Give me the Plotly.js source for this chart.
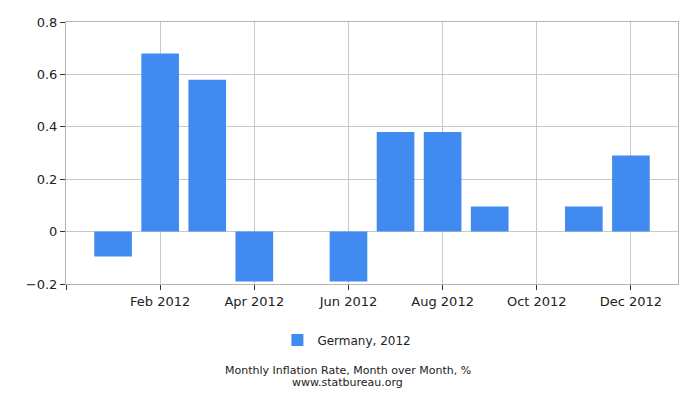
<!DOCTYPE html>
<html>
<head>
<meta charset="utf-8">
<script src="https://cdn.plot.ly/plotly-3.0.1.min.js"></script>
<style>
  html, body { margin: 0; padding: 0; background: #fff; }
  #chart { width: 700px; height: 400px; }
</style>
</head>
<body>
<div id="chart"></div>
<script>
var months = ['Jan 2012', 'Feb 2012', 'Mar 2012', 'Apr 2012', 'May 2012', 'Jun 2012',
              'Jul 2012', 'Aug 2012', 'Sep 2012', 'Oct 2012', 'Nov 2012', 'Dec 2012'];
var rates = [-0.095, 0.68, 0.58, -0.19, 0, -0.19, 0.38, 0.38, 0.096, 0, 0.096, 0.29];
var seriesName = 'Germany, 2012';
// every other month gets a label, plus the empty tick at the left edge
var tickIdx = [-1, 1, 3, 5, 7, 9, 11];
var tickLabels = ['', 'Feb 2012', 'Apr 2012', 'Jun 2012', 'Aug 2012', 'Oct 2012', 'Dec 2012'];

var trace = {
  x: months,
  y: rates,
  name: seriesName,
  type: 'bar',
  width: 0.8,
  marker: { color: '#418bf0' },
  showlegend: true
};

var layout = {
  width: 700,
  height: 400,
  margin: { l: 66, r: 22, t: 22, b: 116 },
  paper_bgcolor: '#fff',
  plot_bgcolor: '#fff',
  font: { family: 'DejaVu Sans, Verdana, sans-serif', size: 13, color: '#222' },
  xaxis: {
    type: 'category',
    range: [-1, 12],
    tickvals: tickIdx,
    ticktext: tickLabels,
    ticks: 'outside',
    ticklen: 5,
    tickcolor: '#333',
    showgrid: true,
    gridcolor: '#c8c8c8',
    showline: true,
    linecolor: '#b4b4b4',
    mirror: true,
    zeroline: false
  },
  yaxis: {
    range: [-0.2, 0.8],
    dtick: 0.2,
    tick0: 0,
    ticks: 'outside',
    ticklen: 5,
    tickcolor: '#333',
    showgrid: true,
    gridcolor: '#c8c8c8',
    showline: true,
    linecolor: '#b4b4b4',
    mirror: true,
    zeroline: false
  },
  bargap: 0.2,
  showlegend: true,
  legend: {
    orientation: 'h',
    x: 0.459,
    xanchor: 'center',
    y: -0.214,
    yanchor: 'middle',
    font: { size: 12 }
  },
  annotations: [
    {
      text: 'Monthly Inflation Rate, Month over Month, %',
      xref: 'paper', yref: 'paper',
      x: 0.46, y: -0.33,
      xanchor: 'center', yanchor: 'middle',
      showarrow: false,
      font: { size: 11 }
    },
    {
      text: 'www.statbureau.org',
      xref: 'paper', yref: 'paper',
      x: 0.46, y: -0.376,
      xanchor: 'center', yanchor: 'middle',
      showarrow: false,
      font: { size: 11 }
    }
  ]
};

Plotly.newPlot('chart', [trace], layout, { displayModeBar: false, staticPlot: true });
</script>
</body>
</html>
